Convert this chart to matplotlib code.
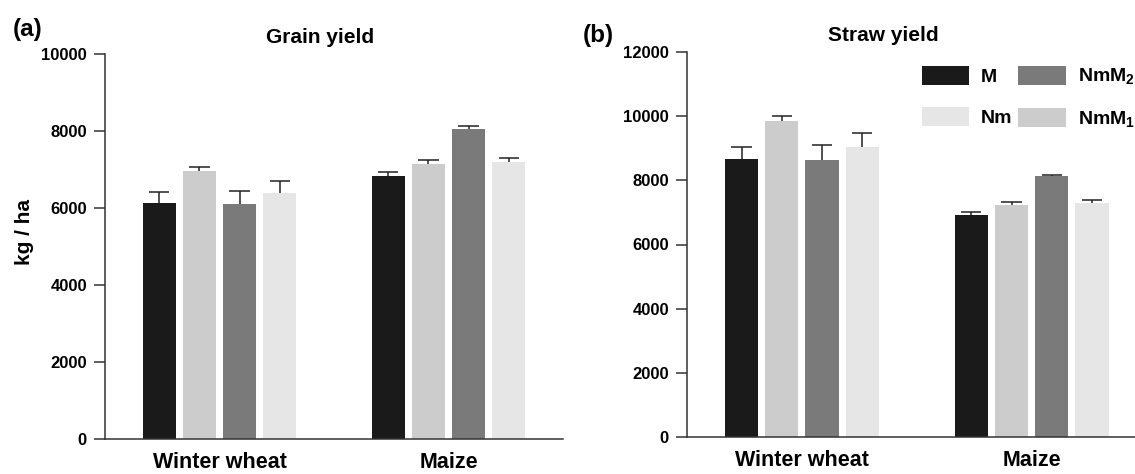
import numpy as np
import matplotlib
matplotlib.use("Agg")
import matplotlib.pyplot as plt
from matplotlib.patches import Patch

plt.rcParams['font.family'] = ['Liberation Sans', 'DejaVu Sans']
plt.rcParams['font.weight'] = 'bold'
plt.rcParams['mathtext.fontset'] = 'custom'
plt.rcParams['mathtext.rm'] = 'Liberation Sans:bold'
plt.rcParams['mathtext.bf'] = 'Liberation Sans:bold'

# datos (kg/ha)
groups = ['Winter wheat', 'Maize']
treatments = ['M', 'NmM1', 'NmM2', 'Nm']
colors = ['#1a1a1a', '#cccccc', '#7a7a7a', '#e6e6e6']

# grano: un valor por cultivo
grain_M = [6120, 6830]
grain_NmM1 = [6960, 7140]
grain_NmM2 = [6100, 8040]
grain_Nm = [6390, 7190]
grain_err_M = [290, 100]
grain_err_NmM1 = [110, 100]
grain_err_NmM2 = [350, 95]
grain_err_Nm = [300, 100]

# paja
straw_M = [8650, 6920]
straw_NmM1 = [9845, 7245]
straw_NmM2 = [8620, 8145]
straw_Nm = [9025, 7285]
straw_err_M = [395, 95]
straw_err_NmM1 = [165, 95]
straw_err_NmM2 = [490, 15]
straw_err_Nm = [435, 100]

grain = [grain_M, grain_NmM1, grain_NmM2, grain_Nm]
grain_err = [grain_err_M, grain_err_NmM1, grain_err_NmM2, grain_err_Nm]
straw = [straw_M, straw_NmM1, straw_NmM2, straw_Nm]
straw_err = [straw_err_M, straw_err_NmM1, straw_err_NmM2, straw_err_Nm]

W, H = 1135, 474
fig = plt.figure(figsize=(W / 100, H / 100), dpi=100)
ax1 = fig.add_axes([105 / W, 1 - 439 / H, (563 - 105) / W, (439 - 54) / H])
ax2 = fig.add_axes([687 / W, 1 - 437 / H, (1135 - 687) / W, (437 - 52) / H])

x = np.arange(len(groups))
offsets = np.array([-1.5, -0.5, 0.5, 1.5]) * 0.175
width = 0.145
cap = 0.044


def draw_panel(ax, vals, errs, ymax, yticks, xmax):
    for i in range(len(treatments)):
        v = np.array(vals[i])
        e = np.array(errs[i])
        xp = x + offsets[i]
        ax.bar(xp, v, width, color=colors[i], zorder=2)
        # solo barra de error hacia arriba
        ax.vlines(xp, v, v + e, color='#222222', lw=1.1, zorder=1)
        ax.hlines(v + e, xp - cap, xp + cap, color='#222222', lw=1.1, zorder=1)
    ax.set_xlim(-0.5, xmax)
    ax.set_ylim(0, ymax)
    ax.set_yticks(yticks)
    ax.set_xticks(x)
    ax.set_xticklabels(groups, fontsize=15.5, fontweight='bold')
    ax.tick_params(axis='x', length=0, pad=9)
    ax.tick_params(axis='y', length=8, width=1.1, pad=5, labelsize=12, color='#333333')
    for s in ['top', 'right']:
        ax.spines[s].set_visible(False)
    for s in ['left', 'bottom']:
        ax.spines[s].set_linewidth(1.1)
        ax.spines[s].set_color('#333333')


draw_panel(ax1, grain, grain_err, 10000, np.arange(0, 10001, 2000), 1.5)
draw_panel(ax2, straw, straw_err, 12000, np.arange(0, 12001, 2000), 1.45)

fig.text(320 / W, 1 - 43 / H, 'Grain yield', ha='center', va='baseline', fontsize=15, fontweight='bold')
fig.text(883 / W, 1 - 41 / H, 'Straw yield', ha='center', va='baseline', fontsize=15, fontweight='bold')
fig.text(13 / W, 1 - 36 / H, '(a)', ha='left', va='baseline', fontsize=17.5, fontweight='bold')
fig.text(583 / W, 1 - 42 / H, '(b)', ha='left', va='baseline', fontsize=17.5, fontweight='bold')
fig.text(25 / W, 1 - 232 / H, 'kg / ha', rotation=90, ha='center', va='center', fontsize=15, fontweight='bold')

# leyenda
labels = ['M', 'Nm', r'NmM$_\mathbf{2}$', r'NmM$_\mathbf{1}$']
order = [0, 3, 2, 1]
handles = [Patch(facecolor=colors[i], edgecolor='none') for i in order]
fig.legend(handles, labels, ncol=2, loc='upper left', bbox_to_anchor=(922 / W, 1 - 66 / H),
           frameon=False, handlelength=2.42, handleheight=1.13,
           handletextpad=0.62, columnspacing=0.3, labelspacing=1.08,
           borderpad=0, borderaxespad=0, prop={'weight': 'bold', 'size': 14})

fig.savefig('out.png', dpi=100)
